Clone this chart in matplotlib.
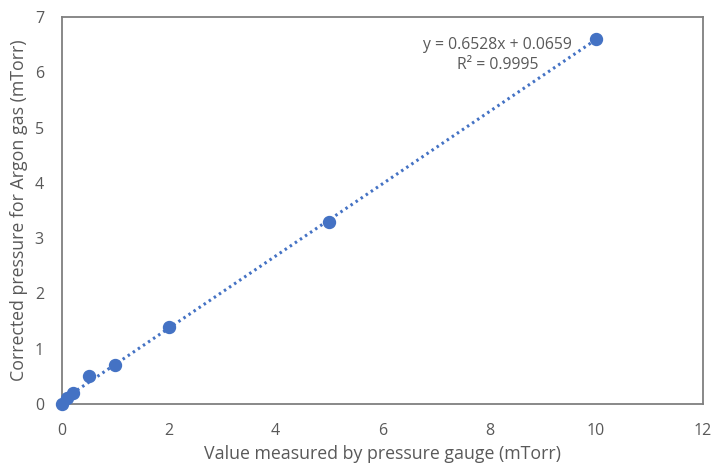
import matplotlib
matplotlib.use("Agg")
import matplotlib.pyplot as plt
import numpy as np

x_measured = [0, 0.1, 0.2, 0.5, 1, 2, 5, 10]
y_corrected = [0, 0.1, 0.2, 0.5, 0.7, 1.4, 3.3, 6.6]
slope = 0.6528
intercept = 0.0659
r2 = 0.9995
x_ticks = [0, 2, 4, 6, 8, 10, 12]
y_ticks = [0, 1, 2, 3, 4, 5, 6, 7]

plt.rcParams['font.family'] = ['Open Sans', 'DejaVu Sans']
gray = '#595959'
blue = '#4472C4'

fig = plt.figure(figsize=(7.14, 4.67), dpi=100)
ax = fig.add_axes([0.0868, 0.1349, 0.8978, 0.8287])

xf = np.array([min(x_measured), max(x_measured)])
ax.plot(xf, slope * xf + intercept, linestyle=(0, (0.8, 1.2)), color=blue, linewidth=2.2, zorder=2)
ax.plot(x_measured, y_corrected, 'o', color=blue, markersize=8.6, zorder=3, clip_on=False)

ax.set_xlim(0, 12)
ax.set_ylim(0, 7)
ax.set_xticks(x_ticks)
ax.set_yticks(y_ticks)
ax.tick_params(axis='x', length=0, labelsize=11.5, colors=gray, pad=14)
ax.tick_params(axis='y', length=0, labelsize=11.5, colors=gray, pad=13)
for s in ax.spines.values():
    s.set_color('#7f7f7f')
    s.set_linewidth(1.3)

ax.set_xlabel('Value measured by pressure gauge (mTorr)', fontsize=12.8, color=gray, labelpad=4)
ax.set_ylabel('Corrected pressure for Argon gas (mTorr)', fontsize=12.8, color=gray, labelpad=5)

ax.text(8.15, 6.31, f'y = {slope}x + {intercept}\nR² = {r2}', ha='center', va='center',
        fontsize=11.3, color=gray, linespacing=1.3)

fig.savefig('out.png', dpi=100)
